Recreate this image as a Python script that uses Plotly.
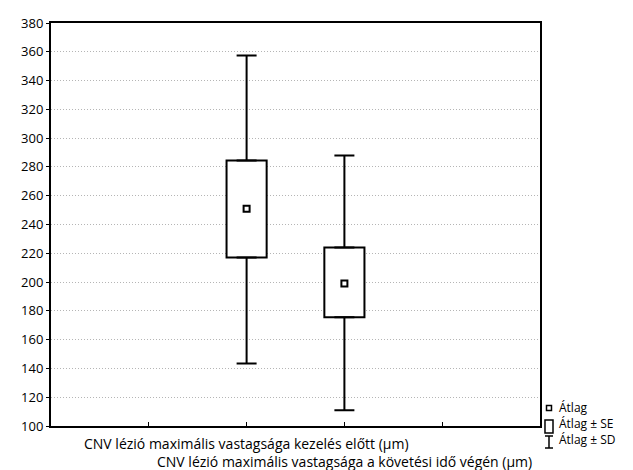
import plotly.graph_objects as go

categories = ["CNV lézió maximális vastagsága kezelés előtt (µm)",
              "CNV lézió maximális vastagsága a követési idő végén (µm)"]
positions = [2, 3]
mean_vals = [251, 199]
se_low = [217, 175.5]
se_high = [284.5, 224]
sd_low = [143.5, 111]
sd_high = [357.5, 288]
y_ticks = list(range(100, 381, 20))
legend_items = ["Átlag", "Átlag ± SE", "Átlag ± SD"]

FONT = "Open Sans"
fig = go.Figure()

# SE boxes
fig.add_trace(go.Bar(
    x=positions, base=se_low, y=[h - l for h, l in zip(se_high, se_low)],
    width=0.41, marker=dict(color="white", line=dict(color="black", width=2)),
    showlegend=False, hoverinfo="skip"))

# SD whiskers (upper part from box top, lower part from box bottom)
fig.add_trace(go.Scatter(
    x=positions, y=se_high, mode="markers", marker=dict(size=1, color="rgba(0,0,0,0)"),
    error_y=dict(type="data", symmetric=False,
                 array=[h - s for h, s in zip(sd_high, se_high)],
                 arrayminus=[0, 0], color="black", thickness=2, width=10),
    showlegend=False, hoverinfo="skip"))
fig.add_trace(go.Scatter(
    x=positions, y=se_low, mode="markers", marker=dict(size=1, color="rgba(0,0,0,0)"),
    error_y=dict(type="data", symmetric=False, array=[0, 0],
                 arrayminus=[s - l for s, l in zip(se_low, sd_low)],
                 color="black", thickness=2, width=10),
    showlegend=False, hoverinfo="skip"))

# Means
fig.add_trace(go.Scatter(
    x=positions, y=mean_vals, mode="markers",
    marker=dict(symbol="square-open", size=6, color="black", line=dict(color="black", width=2)),
    showlegend=False))

annotations = []
for i, (p, c) in enumerate(zip(positions, categories)):
    annotations.append(dict(x=p, y=0, xref="x", yref="paper", yshift=-17 - 18 * i,
                            text=c, showarrow=False, xanchor="center", yanchor="middle",
                            font=dict(family=FONT, size=14, color="black")))

leg_y = [0.0447, 0.005, -0.0347]
for t, yy in zip(legend_items, leg_y):
    annotations.append(dict(x=1.0348, y=yy, xref="paper", yref="paper", text=t,
                            showarrow=False, xanchor="left", yanchor="middle",
                            font=dict(family=FONT, size=12, color="black")))

lw = dict(color="black", width=1.5)
shapes = [
    dict(type="rect", xref="paper", yref="paper", x0=1.0133, x1=1.0235, y0=0.0385, y1=0.0509, line=lw),
    dict(type="rect", xref="paper", yref="paper", x0=1.0102, x1=1.0266, y0=-0.0174, y1=0.0149, line=lw),
    dict(type="line", xref="paper", yref="paper", x0=1.0184, x1=1.0184, y0=-0.0546, y1=-0.0248, line=lw),
    dict(type="line", xref="paper", yref="paper", x0=1.0102, x1=1.0266, y0=-0.0248, y1=-0.0248, line=lw),
    dict(type="line", xref="paper", yref="paper", x0=1.0102, x1=1.0266, y0=-0.0546, y1=-0.0546, line=lw),
]

fig.update_layout(
    width=625, height=462,
    margin=dict(l=43, r=93, t=15, b=44, autoexpand=False),
    paper_bgcolor="white", plot_bgcolor="white",
    font=dict(family=FONT, size=13, color="black"),
    annotations=annotations, shapes=shapes, barmode="overlay",
    xaxis=dict(range=[0, 5], tickvals=[1, 2, 3, 4], ticktext=["", "", "", ""],
               ticks="inside", ticklen=4, tickcolor="black", showgrid=False,
               showline=True, linecolor="black", linewidth=2, mirror=True, zeroline=False),
    yaxis=dict(range=[100, 380], tickvals=y_ticks, ticks="outside", ticklen=3,
               tickcolor="black", showgrid=True, gridcolor="#b5b5b5", griddash="1px,2px",
               gridwidth=1, showline=True, linecolor="black", linewidth=2, mirror=True,
               zeroline=False, tickfont=dict(family=FONT, size=13)),
)

fig.write_html("out.html")
